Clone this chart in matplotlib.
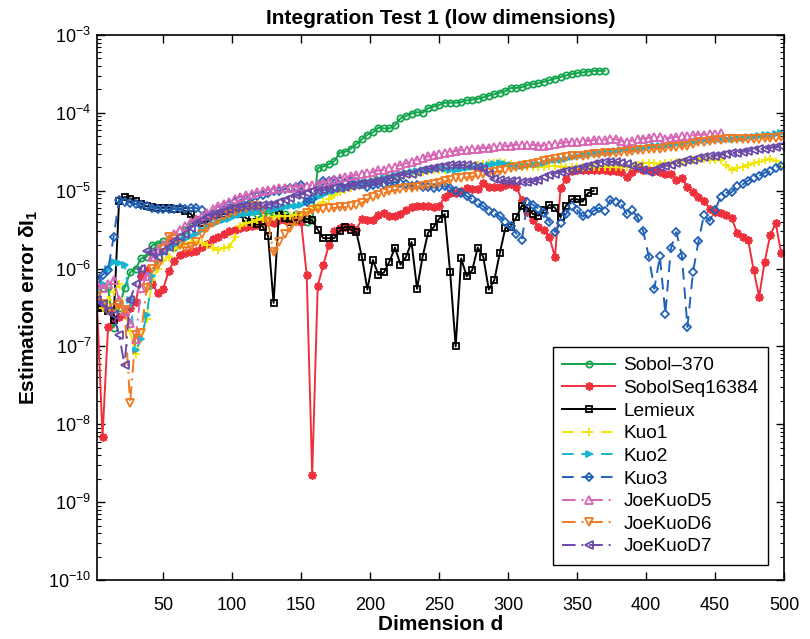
import numpy as np
import matplotlib
matplotlib.use("Agg")
import matplotlib.pyplot as plt

plt.rcParams['font.family'] = ['Liberation Sans', 'DejaVu Sans']
plt.rcParams['mathtext.fontset'] = 'custom'
plt.rcParams['mathtext.rm'] = 'Liberation Sans'
plt.rcParams['mathtext.bf'] = 'Liberation Sans:bold'

# dimension grid (every 4th dimension)
dims = np.arange(2, 499, 4)

# log10 of estimation error
sobol370_log10 = [
    -6.30, -6.25, -6.24, -6.76, -6.50, -6.25, -6.05, -6.00, -5.87, -5.85,
    -5.70, -5.68, -5.65, -5.68, -5.72, -5.65, -5.50, -5.42, -5.40, -5.38,
    -5.35, -5.33, -5.30, -5.30, -5.28, -5.27, -5.27, -5.26, -5.26, -5.30,
    -5.28, -5.30, -5.28, -5.33, -5.30, -5.35, -5.30, -5.33, -5.40, -5.38,
    -4.71, -4.69, -4.66, -4.62, -4.51, -4.50, -4.46, -4.40, -4.34, -4.28,
    -4.25, -4.19, -4.20, -4.20, -4.16, -4.07, -4.04, -4.01, -3.99, -4.00,
    -3.94, -3.92, -3.90, -3.87, -3.87, -3.87, -3.86, -3.84, -3.83, -3.82,
    -3.80, -3.78, -3.76, -3.74, -3.72, -3.68, -3.68, -3.67, -3.64, -3.63,
    -3.62, -3.60, -3.58, -3.56, -3.54, -3.52, -3.50, -3.49, -3.48, -3.47,
    -3.46, -3.46, -3.46]

sobolseq_log10 = [
    -6.45, -8.16, -6.75, -6.65, -6.62, -6.58, -6.50, -6.43, -6.10, -6.02,
    -6.20, -6.31, -6.26, -6.03, -5.90, -5.83, -5.80, -5.79, -5.77, -5.72,
    -5.68, -5.62, -5.60, -5.55, -5.52, -5.50, -5.48, -5.47, -5.45, -5.44,
    -5.42, -5.40, -5.42, -5.38, -5.38, -5.36, -5.38, -5.40, -6.08, -8.65,
    -6.22, -5.96, -5.70, -5.52, -5.48, -5.47, -5.47, -5.50, -5.36, -5.37,
    -5.37, -5.31, -5.29, -5.32, -5.33, -5.30, -5.25, -5.21, -5.20, -5.19,
    -5.20, -5.21, -5.20, -5.08, -5.03, -5.03, -5.00, -4.96, -4.98, -4.98,
    -4.90, -4.95, -4.95, -4.95, -4.93, -4.91, -4.95, -5.12, -5.27, -5.38,
    -5.46, -5.50, -5.60, -5.85, -4.97, -4.85, -4.75, -4.73, -4.73, -4.73,
    -4.73, -4.73, -4.74, -4.75, -4.75, -4.76, -4.82, -4.76, -4.71, -4.73,
    -4.74, -4.75, -4.76, -4.78, -4.79, -4.86, -4.84, -4.95, -5.02, -5.08,
    -5.13, -5.23, -5.27, -5.29, -5.31, -5.35, -5.54, -5.60, -5.63, -6.02,
    -6.36, -5.91, -5.57, -5.42, -5.80]

lemieux_log10 = [
    -6.50, -6.50, -6.55, -6.66, -5.13, -5.08, -5.10, -5.13, -5.17, -5.20,
    -5.21, -5.22, -5.22, -5.22, -5.23, -5.23, -5.26, -5.30, -5.37, -5.41,
    -5.40, -5.33, -5.30, -5.30, -5.28, -5.27, -5.30, -5.35, -5.40, -5.43,
    -5.46, -5.58, -6.44, -5.25, -5.35, -5.40, -5.38, -5.34, -5.36, -5.38,
    -5.50, -5.61, -5.61, -5.61, -5.52, -5.46, -5.50, -5.53, -5.85, -6.27,
    -5.89, -6.08, -6.05, -5.91, -5.73, -5.95, -5.85, -5.66, -6.26, -5.85,
    -5.54, -5.47, -5.36, -5.30, -6.05, -7.00, -5.87, -6.10, -6.02, -5.73,
    -5.85, -6.27, -6.15, -5.80, -5.48, -5.46, -5.34, -5.19, -5.22, -5.30,
    -5.32, -5.25, -5.18, -5.22, -5.34, -5.19, -5.11, -5.11, -5.14, -5.03,
    -5.00]

kuo1_log10 = [
    -6.30, -6.50, -6.40, -6.30, -6.20, -6.55, -6.80, -7.10, -6.90, -6.65,
    -6.15, -6.00, -5.90, -5.85, -5.75, -5.70, -5.68, -5.66, -5.66, -5.67,
    -5.70, -5.74, -5.76, -5.73, -5.72, -5.60, -5.45, -5.42, -5.40, -5.38,
    -5.36, -5.35, -5.34, -5.33, -5.33, -5.32, -5.31, -5.31, -5.28, -5.25,
    -5.20, -5.15, -5.10, -5.06, -5.02, -4.99, -4.96, -4.94, -4.92, -4.90,
    -4.88, -4.86, -4.85, -4.83, -4.82, -4.80, -4.79, -4.78, -4.77, -4.76,
    -4.75, -4.74, -4.73, -4.73, -4.72, -4.71, -4.71, -4.70, -4.69, -4.67,
    -4.66, -4.65, -4.64, -4.63, -4.64, -4.66, -4.68, -4.69, -4.70, -4.70,
    -4.70, -4.69, -4.68, -4.68, -4.69, -4.69, -4.70, -4.70, -4.70, -4.70,
    -4.70, -4.69, -4.69, -4.70, -4.70, -4.70, -4.69, -4.68, -4.67, -4.65,
    -4.64, -4.65, -4.66, -4.65, -4.64, -4.63, -4.63, -4.62, -4.61, -4.59,
    -4.59, -4.60, -4.61, -4.61, -4.67, -4.73, -4.71, -4.69, -4.67, -4.65,
    -4.63, -4.61, -4.59, -4.62, -4.69]

kuo2_log10 = [
    -6.30, -6.20, -6.00, -5.92, -5.93, -5.95, -6.40, -7.05, -6.90, -6.60,
    -6.10, -5.90, -5.80, -5.75, -5.70, -5.65, -5.62, -5.58, -5.55, -5.50,
    -5.46, -5.43, -5.40, -5.38, -5.36, -5.33, -5.31, -5.30, -5.28, -5.27,
    -5.25, -5.24, -5.23, -5.22, -5.21, -5.20, -5.19, -5.18, -5.15, -5.12,
    -5.08, -5.05, -5.02, -5.00, -4.98, -4.96, -4.94, -4.93, -4.91, -4.89,
    -4.87, -4.85, -4.84, -4.82, -4.80, -4.79, -4.77, -4.76, -4.75, -4.74,
    -4.73, -4.72, -4.71, -4.72, -4.74, -4.73, -4.72, -4.71, -4.70, -4.69,
    -4.68, -4.67, -4.66, -4.65, -4.66, -4.67, -4.68, -4.68, -4.67, -4.66,
    -4.66, -4.65, -4.62, -4.61, -4.60, -4.59, -4.57, -4.56, -4.54, -4.53,
    -4.52, -4.51, -4.50, -4.50, -4.49, -4.48, -4.47, -4.47, -4.46, -4.45,
    -4.44, -4.43, -4.42, -4.42, -4.41, -4.40, -4.39, -4.38, -4.37, -4.36,
    -4.35, -4.35, -4.34, -4.34, -4.33, -4.33, -4.32, -4.32, -4.31, -4.31,
    -4.30, -4.29, -4.28, -4.27, -4.26]

kuo3_log10 = [
    -6.15, -6.08, -6.02, -5.60, -5.12, -5.14, -5.16, -5.17, -5.18, -5.20,
    -5.22, -5.23, -5.24, -5.24, -5.23, -5.22, -5.23, -5.22, -5.22, -5.25,
    -5.32, -5.30, -5.25, -5.20, -5.18, -5.15, -5.12, -5.10, -5.08, -5.07,
    -5.05, -5.03, -5.00, -5.00, -4.98, -4.97, -4.95, -4.93, -5.15, -5.10,
    -4.95, -4.88, -4.87, -4.86, -4.88, -4.90, -4.88, -4.89, -4.92, -4.95,
    -4.93, -4.92, -4.92, -4.90, -4.89, -4.90, -4.92, -4.94, -4.93, -4.95,
    -4.95, -4.96, -4.95, -4.94, -4.96, -5.00, -5.03, -5.07, -5.11, -5.16,
    -5.20, -5.26, -5.29, -5.33, -5.40, -5.45, -5.55, -5.63, -5.14, -5.18,
    -5.23, -5.28, -5.40, -5.53, -5.41, -5.30, -5.20, -5.25, -5.33, -5.30,
    -5.26, -5.22, -5.26, -5.12, -5.15, -5.17, -5.30, -5.25, -5.35, -5.52,
    -5.85, -6.26, -5.84, -6.58, -5.74, -5.53, -5.84, -6.75, -6.05, -5.65,
    -5.31, -5.39, -5.25, -5.08, -5.03, -5.02, -4.94, -4.92, -4.87, -4.84,
    -4.81, -4.77, -4.75, -4.71, -4.68]

joekuo5_log10 = [
    -6.20, -6.25, -6.20, -6.15, -6.40, -6.55, -6.70, -6.90, -6.25, -6.10,
    -5.85, -5.75, -5.70, -5.62, -5.55, -5.50, -5.45, -5.40, -5.36, -5.32,
    -5.28, -5.24, -5.20, -5.17, -5.14, -5.11, -5.08, -5.06, -5.04, -5.02,
    -5.00, -4.99, -4.98, -4.97, -4.96, -4.96, -4.95, -4.95, -4.94, -4.93,
    -4.92, -4.90, -4.88, -4.86, -4.84, -4.83, -4.81, -4.80, -4.78, -4.77,
    -4.76, -4.74, -4.73, -4.71, -4.69, -4.67, -4.65, -4.63, -4.60, -4.58,
    -4.56, -4.54, -4.53, -4.51, -4.50, -4.49, -4.48, -4.48, -4.47, -4.46,
    -4.45, -4.45, -4.44, -4.43, -4.43, -4.42, -4.41, -4.41, -4.41, -4.41,
    -4.42, -4.42, -4.41, -4.40, -4.39, -4.38, -4.37, -4.37, -4.36, -4.36,
    -4.35, -4.35, -4.35, -4.34, -4.34, -4.36, -4.38, -4.36, -4.34, -4.33,
    -4.32, -4.31, -4.31, -4.33, -4.32, -4.31, -4.30, -4.30, -4.29, -4.28,
    -4.28, -4.27, -4.27, -4.26]

joekuo6_log10 = [
    -6.35, -6.45, -6.55, -6.50, -6.47, -6.53, -7.73, -6.85, -6.83, -6.25,
    -6.00, -5.95, -5.75, -5.60, -5.62, -5.70, -5.73, -5.72, -5.66, -5.55,
    -5.48, -5.42, -5.38, -5.33, -5.30, -5.27, -5.24, -5.22, -5.20, -5.20,
    -5.25, -5.40, -5.79, -5.66, -5.55, -5.48, -5.40, -5.33, -5.28, -5.25,
    -5.24, -5.23, -5.22, -5.22, -5.21, -5.21, -5.20, -5.18, -5.16, -5.11,
    -5.08, -5.05, -5.03, -5.01, -4.99, -4.98, -4.97, -4.96, -4.95, -4.94,
    -4.93, -4.92, -4.90, -4.88, -4.86, -4.84, -4.84, -4.83, -4.82, -4.80,
    -4.79, -4.77, -4.76, -4.75, -4.73, -4.71, -4.70, -4.68, -4.67, -4.66,
    -4.65, -4.62, -4.60, -4.59, -4.58, -4.57, -4.56, -4.55, -4.55, -4.54,
    -4.53, -4.53, -4.52, -4.52, -4.51, -4.50, -4.50, -4.49, -4.48, -4.48,
    -4.47, -4.46, -4.46, -4.45, -4.44, -4.44, -4.43, -4.42, -4.40, -4.38,
    -4.37, -4.36, -4.35, -4.35, -4.34, -4.34, -4.34, -4.33, -4.33, -4.33,
    -4.33, -4.32, -4.32, -4.32, -4.31]

joekuo7_log10 = [
    -6.40, -6.45, -6.55, -6.60, -6.85, -7.24, -6.40, -6.20, -6.00, -5.78,
    -5.80, -5.85, -5.78, -5.72, -5.65, -5.60, -5.55, -5.48, -5.42, -5.38,
    -5.34, -5.31, -5.28, -5.26, -5.24, -5.22, -5.21, -5.20, -5.19, -5.19,
    -5.18, -5.18, -5.17, -5.15, -5.12, -5.09, -5.06, -5.05, -5.03, -5.01,
    -5.00, -4.99, -4.98, -4.97, -4.96, -4.95, -4.94, -4.93, -4.92, -4.90,
    -4.89, -4.88, -4.86, -4.84, -4.82, -4.80, -4.79, -4.78, -4.76, -4.74,
    -4.72, -4.71, -4.70, -4.68, -4.67, -4.67, -4.67, -4.67, -4.68, -4.69,
    -4.72, -4.78, -4.85, -4.86, -4.87, -4.88, -4.88, -4.89, -4.89, -4.88,
    -4.86, -4.83, -4.80, -4.78, -4.76, -4.75, -4.73, -4.72, -4.70, -4.68,
    -4.66, -4.64, -4.63, -4.63, -4.63, -4.64, -4.66, -4.68, -4.70, -4.74,
    -4.76, -4.73, -4.70, -4.68, -4.67, -4.65, -4.63, -4.61, -4.60, -4.58,
    -4.57, -4.56, -4.55, -4.54, -4.53, -4.52, -4.51, -4.50, -4.49, -4.48,
    -4.47, -4.46, -4.45, -4.44, -4.43]

series = [
    ("Sobol\u2013370", sobol370_log10, '#12a54c', '-', 'o', 'none', 4.5),
    ("SobolSeq16384", sobolseq_log10, '#ee2f3c', '-', (8, 2, 0), None, 6),
    ("Lemieux", lemieux_log10, '#000000', '-', 's', 'none', 4.5),
    ("Kuo1", kuo1_log10, '#f2e600', (0, (6, 4)), '+', None, 6),
    ("Kuo2", kuo2_log10, '#15b4d0', (0, (6, 4)), '>', None, 5),
    ("Kuo3", kuo3_log10, '#2162b8', (0, (6, 4)), 'D', 'none', 4),
    ("JoeKuoD5", joekuo5_log10, '#d765b3', (0, (7, 3, 1, 3)), '^', 'none', 5.5),
    ("JoeKuoD6", joekuo6_log10, '#f07a22', (0, (7, 3, 1, 3)), 'v', 'none', 5.5),
    ("JoeKuoD7", joekuo7_log10, '#6a4aa8', (0, (7, 3, 1, 3)), '<', 'none', 5.5),
]

fig = plt.figure(figsize=(8.1, 6.39), dpi=100)
ax = fig.add_axes([97/810, 1 - 580/639, 687/810, 545/639])

for label, vals, color, ls, mk, mfc, ms in series:
    v = np.asarray(vals)
    x = dims[:len(v)]
    kw = dict(color=color, linestyle=ls, marker=mk, markersize=ms,
              linewidth=1.4, markeredgewidth=1.3, label=label)
    if mfc is not None:
        kw['markerfacecolor'] = mfc
    ax.plot(x, 10.0 ** v, **kw)

ax.set_yscale('log')
ax.set_xlim(2, 500)
ax.set_ylim(1e-10, 1e-3)
ax.set_xticks([50, 100, 150, 200, 250, 300, 350, 400, 450, 500])
ax.set_yticks([1e-10, 1e-9, 1e-8, 1e-7, 1e-6, 1e-5, 1e-4, 1e-3])
ax.tick_params(axis='both', which='both', direction='in', top=True, right=True,
               labelsize=13)
ax.tick_params(axis='both', which='major', length=6, width=1)
ax.tick_params(axis='y', which='minor', length=3, width=0.8)
ax.tick_params(axis='x', which='major', pad=12)
ax.tick_params(axis='y', which='major', pad=4)
for s in ax.spines.values():
    s.set_linewidth(1.2)

ax.set_title("Integration Test 1 (low dimensions)", fontsize=15,
             fontweight='bold', pad=8)
ax.set_xlabel("Dimension d", fontsize=15, fontweight='bold', labelpad=1)
ax.set_ylabel(r"Estimation error $\mathbf{\delta I_1}$", fontsize=15,
              fontweight='bold', labelpad=6)

leg = ax.legend(loc='lower right', bbox_to_anchor=(0.9767, 0.0275),
                borderaxespad=0, fontsize=13.7, frameon=True, fancybox=False,
                edgecolor='black', framealpha=1, handlelength=2.75,
                labelspacing=0.28, borderpad=0.5, handletextpad=0.45)
leg.get_frame().set_linewidth(1.0)

fig.savefig("out.png", dpi=100)
